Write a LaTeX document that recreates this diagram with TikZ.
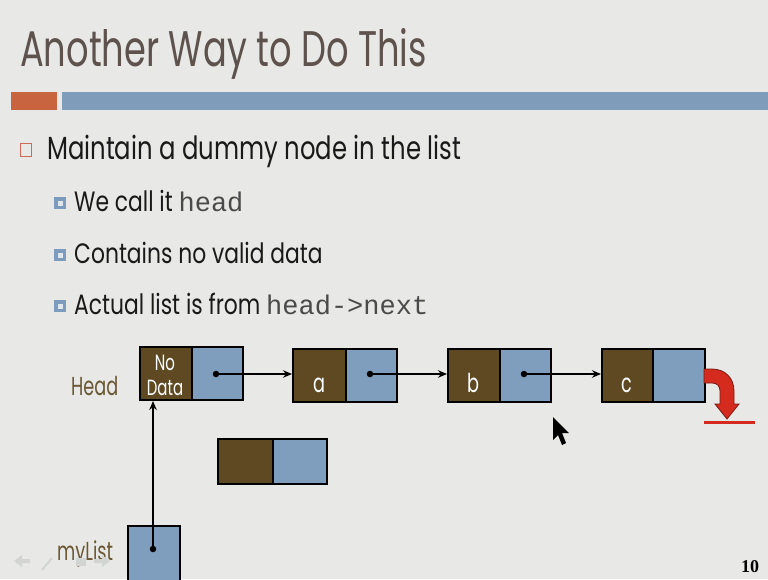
\documentclass[tikz,border=0pt]{standalone}
\usepackage{fontspec}
\usetikzlibrary{arrows.meta}
\newfontfamily\tw[FakeStretch=0.78]{Poppins}
\newfontfamily\twt[FakeStretch=0.705]{Poppins}
\newfontfamily\twa[FakeStretch=0.76]{Poppins}
\newfontfamily\twn[FakeStretch=0.68]{Poppins}
\newfontfamily\mono{Liberation Mono}
\newfontfamily\numfont{Liberation Serif}
\definecolor{bg}{HTML}{E8E9E6}
\definecolor{titlec}{HTML}{5E524D}
\definecolor{orangec}{HTML}{C96441}
\definecolor{barblue}{HTML}{7F9DBA}
\definecolor{bulred}{HTML}{D06A58}
\definecolor{bulblue}{HTML}{7D9BBD}
\definecolor{bulin}{HTML}{E0E6EE}
\definecolor{brownc}{HTML}{5E4923}
\definecolor{boxblue}{HTML}{7F9DBC}
\definecolor{labc}{HTML}{6A5733}
\definecolor{redc}{HTML}{D52B1E}
\definecolor{redd}{HTML}{7A1A12}
\definecolor{monoc}{HTML}{4A4A4A}
\definecolor{navc}{HTML}{D3D5D2}
\begin{document}
\begin{tikzpicture}[x=1pt,y=-1pt,
  brownbox/.style={draw=black,line width=2pt,fill=brownc,inner sep=0pt,anchor=north west,text=white},
  bluebox/.style={draw=black,line width=2pt,fill=boxblue,inner sep=0pt,anchor=north west},
  ptrdot/.style={circle,fill=black,inner sep=0pt,minimum size=6.5pt},
  ptr/.style={line width=2pt,-{Stealth[length=9pt,width=7.5pt]}},
  lab/.style={anchor=base west,inner sep=0pt,text=labc,font=\twn\fontsize{26}{26}\selectfont},
  cell/.style={font=\twn\fontsize{22}{22}\selectfont,text=white},
  cellb/.style={font=\twn\fontsize{26}{26}\selectfont,text=white},
  l1/.style={anchor=base west,inner sep=0pt,font=\twa\fontsize{32}{32}\selectfont,text=black!90},
  l2/.style={anchor=base west,inner sep=0pt,font=\tw\fontsize{28}{28}\selectfont,text=black!90}]
\clip (0,0) rectangle (768,579);
\fill[bg] (0,0) rectangle (768,579);
% title
\node[anchor=base west,inner sep=0pt,text=titlec,font=\twt\fontsize{50}{50}\selectfont] (title) at (20,66) {Another Way to Do This};
\fill[orangec] (11,92) rectangle (57,110);
\fill[barblue] (62,92) rectangle (768,110);
% bullets
\draw[bulred,line width=1pt] (20,143) rectangle (31,156);
\node[l1] (b1) at (47,159) {Maintain a dummy node in the list};
\fill[bulblue] (54,197) rectangle (66,209);
\fill[bulin] (57.5,200.5) rectangle (62.5,205.5);
\node[l2] (b2) at (74,211) {We call it {\mono\color{monoc}\fontsize{27}{27}\selectfont head}};
\fill[bulblue] (54,249) rectangle (66,261);
\fill[bulin] (57.5,252.5) rectangle (62.5,257.5);
\node[l2] (b3) at (74,263) {Contains no valid data};
\fill[bulblue] (54,300) rectangle (66,312);
\fill[bulin] (57.5,303.5) rectangle (62.5,308.5);
\node[l2] (b4) at (74,314) {Actual list is from {\mono\color{monoc}\fontsize{27}{27}\selectfont head->next}};
% list nodes
\node[lab] (headlab) at (71,395) {Head};
\node[brownbox,minimum width=52pt,minimum height=53pt] (h0d) at (139,346) {};
\node[cell,anchor=base] (nolab) at (165,370) {No};
\node[cell,anchor=base] (datalab) at (165,395) {Data};
\node[bluebox,minimum width=51pt,minimum height=53pt] (h0p) at (191,346) {};
\node[brownbox,minimum width=53pt,minimum height=53pt] (ad) at (292,348) {};
\node[cellb,anchor=base] (alab) at (319,392) {a};
\node[bluebox,minimum width=51pt,minimum height=53pt] (ap) at (345,348) {};
\node[brownbox,minimum width=52pt,minimum height=53pt] (bd) at (447,348) {};
\node[cellb,anchor=base] (blab) at (473,392) {b};
\node[bluebox,minimum width=51pt,minimum height=53pt] (bp) at (499,348) {};
\node[brownbox,minimum width=51pt,minimum height=53pt] (cd) at (601,348) {};
\node[cellb,anchor=base] (clab) at (626.5,392) {c};
\node[bluebox,minimum width=52pt,minimum height=53pt] (cp) at (652,348) {};
\node[ptrdot] (d0) at (216,374) {};
\node[ptrdot] (da) at (370,374) {};
\node[ptrdot] (db) at (524,374) {};
\draw[ptr] (d0) -- (d0 -| ad.west);
\draw[ptr] (da) -- (da -| bd.west);
\draw[ptr] (db) -- (db -| cd.west);
% null arrow
\draw[redd,line width=0.8pt,fill=redc] (704,369) -- (712,369) .. controls (725,369) and (734,378) .. (734,391) -- (734,404) -- (739,404) -- (727,419) -- (715,404) -- (720,404) -- (720,391) .. controls (720,386) and (717,383) .. (712,383) -- (704,383) -- cycle;
\draw[redc,line width=3pt] (704,422) -- (755,422);
% loose node
\node[brownbox,minimum width=55pt,minimum height=45pt] (nd) at (217,438) {};
\node[bluebox,minimum width=54pt,minimum height=45pt] (np) at (272,438) {};
% myList
\node[lab] (mylab) at (57,560) {myList};
\node[bluebox,minimum width=52pt,minimum height=60pt] (ml) at (127,525) {};
\node[ptrdot] (dm) at (153,549) {};
\draw[ptr] (dm) -- (dm |- h0d.south);
% cursor
\fill[black] (553,417) -- (553,440) -- (558,435) -- (562,445) -- (566,443) -- (562,433) -- (569,433) -- cycle;
% faint navigation icons
\fill[navc] (14,561) -- (22,555) -- (22,559) -- (30,559) -- (30,563) -- (22,563) -- (22,567) -- cycle;
\draw[navc,line width=2pt] (42,570) -- (52,558);
\fill[navc] (76,558) rectangle (86,566);
\fill[navc] (110,561) -- (102,555) -- (102,559) -- (94,559) -- (94,563) -- (102,563) -- (102,567) -- cycle;
% page number
\node[anchor=base west,inner sep=0pt,font=\numfont\bfseries\fontsize{18}{18}\selectfont] (pg) at (741,572) {10};
\end{tikzpicture}
\end{document}
